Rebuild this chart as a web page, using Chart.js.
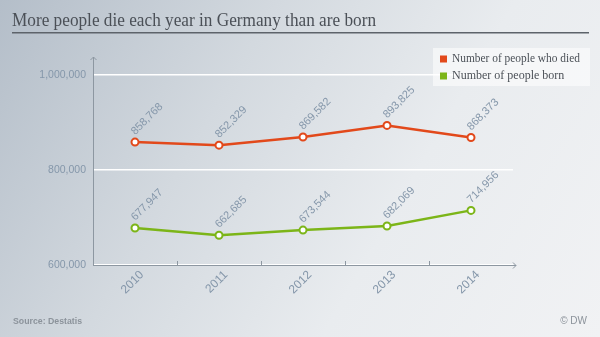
<!DOCTYPE html>
<html>
<head>
<meta charset="utf-8">
<script src="https://cdn.jsdelivr.net/npm/chart.js@4.4.1/dist/chart.umd.min.js"></script>
<style>
  html, body { margin: 0; padding: 0; }
  body {
    width: 600px; height: 337px; overflow: hidden;
    background: linear-gradient(120deg, #b4bec9 0%, #d3d9df 35%, #e9ecef 65%, #f1f2f4 100%);
  }
  #wrap { position: relative; width: 600px; height: 337px; }
</style>
</head>
<body>
<div id="wrap"><canvas id="births_deaths" width="600" height="337"></canvas></div>
<script>
'use strict';

// 年ごとの死亡数・出生数
const years = ['2010', '2011', '2012', '2013', '2014'];
const deaths = [858768, 852329, 869582, 893825, 868373];
const births = [677947, 662685, 673544, 682069, 714956];
const seriesNames = ['Number of people who died', 'Number of people born'];
const seriesColors = ['#e2491b', '#7cb518'];
const yTicks = [600000, 800000, 1000000];

const titleText = 'More people die each year in Germany than are born';
const sourceText = 'Source: Destatis';
const creditText = '\u00a9 DW';

const fmt = v => v.toLocaleString('en-US');
const axisColor = '#8d97a1';
const labelColor = '#8597aa';
const sansFont = 'Arial, "Liberation Sans", sans-serif';
const serifFont = '"Liberation Serif", "DejaVu Serif", serif';

// タイトル・凡例・軸・値ラベル
const decor = {
  id: 'decor',
  beforeDatasetsDraw(chart) {
    const ctx = chart.ctx;
    const a = chart.chartArea;
    const x = chart.scales.x;
    ctx.save();
    ctx.strokeStyle = axisColor;
    ctx.lineWidth = 1;
    // y軸（矢印つき）
    ctx.beginPath();
    ctx.moveTo(a.left + 0.5, a.bottom);
    ctx.lineTo(a.left + 0.5, a.top - 18);
    ctx.moveTo(a.left - 2.5, a.top - 15);
    ctx.lineTo(a.left + 0.5, a.top - 18);
    ctx.lineTo(a.left + 3.5, a.top - 15);
    // x軸（矢印つき）
    ctx.moveTo(a.left, a.bottom + 0.5);
    ctx.lineTo(a.right + 3, a.bottom + 0.5);
    ctx.moveTo(a.right, a.bottom - 2.5);
    ctx.lineTo(a.right + 3, a.bottom + 0.5);
    ctx.lineTo(a.right, a.bottom + 3.5);
    // カテゴリ間の目盛り
    for (let i = 0; i < years.length - 1; i++) {
      const px = Math.round((x.getPixelForTick(i) + x.getPixelForTick(i + 1)) / 2) + 0.5;
      ctx.moveTo(px, a.bottom);
      ctx.lineTo(px, a.bottom - 4);
    }
    ctx.stroke();

    // 年ラベル（45度傾け）
    ctx.fillStyle = labelColor;
    ctx.font = '12px ' + sansFont;
    ctx.textAlign = 'right';
    ctx.textBaseline = 'middle';
    years.forEach((yr, i) => {
      ctx.save();
      ctx.translate(x.getPixelForTick(i) + 7, a.bottom + 8);
      ctx.rotate(-Math.PI / 4);
      ctx.fillText(yr, 0, 0);
      ctx.restore();
    });
    ctx.restore();
  },
  afterDatasetsDraw(chart) {
    const ctx = chart.ctx;
    ctx.save();
    ctx.font = '11px ' + sansFont;
    ctx.fillStyle = labelColor;
    ctx.textAlign = 'left';
    ctx.textBaseline = 'middle';
    chart.data.datasets.forEach((ds, di) => {
      chart.getDatasetMeta(di).data.forEach((pt, i) => {
        ctx.save();
        ctx.translate(pt.x - 2, pt.y - 9);
        ctx.rotate(-Math.PI / 4);
        ctx.fillText(fmt(ds.data[i]), 0, 0);
        ctx.restore();
      });
    });
    ctx.restore();
  },
  afterDraw(chart) {
    const ctx = chart.ctx;
    ctx.save();
    // タイトル
    ctx.fillStyle = '#4b5057';
    ctx.font = '19px ' + serifFont;
    ctx.textAlign = 'left';
    ctx.textBaseline = 'alphabetic';
    ctx.fillText(titleText, 12, 26, 364);
    ctx.fillStyle = '#5d636a';
    ctx.fillRect(12, 32, 577, 1.5);

    // 凡例
    ctx.fillStyle = 'rgba(255,255,255,0.55)';
    ctx.fillRect(433, 48, 157, 38);
    ctx.font = '12px ' + serifFont;
    ctx.textBaseline = 'middle';
    seriesNames.forEach((name, i) => {
      const y = 59 + i * 17;
      ctx.fillStyle = seriesColors[i];
      ctx.fillRect(440, y - 3.5, 7, 7);
      ctx.fillStyle = '#4b5057';
      ctx.fillText(name, 452, y, 128);
    });

    // 出典
    ctx.fillStyle = '#8c939b';
    ctx.font = 'bold 9.5px ' + sansFont;
    ctx.fillText(sourceText, 13, 321, 69);
    ctx.font = '10px ' + sansFont;
    ctx.textAlign = 'right';
    ctx.fillText(creditText, 587, 321);
    ctx.restore();
  }
};

const ctxBirths = document.getElementById('births_deaths').getContext('2d');

new Chart(ctxBirths, {
  type: 'line',
  data: {
    labels: years,
    datasets: [deaths, births].map((values, i) => ({
      label: seriesNames[i],
      data: values,
      borderColor: seriesColors[i],
      backgroundColor: '#ffffff',
      borderWidth: 2.5,
      pointRadius: 3.5,
      pointBorderWidth: 2,
      pointBackgroundColor: '#ffffff',
      pointBorderColor: seriesColors[i],
      tension: 0
    }))
  },
  options: {
    responsive: false,
    animation: false,
    devicePixelRatio: 1,
    layout: { padding: { top: 75, right: 87, bottom: 0, left: 0 } },
    plugins: {
      legend: { display: false },
      tooltip: { enabled: false },
      title: { display: false }
    },
    scales: {
      x: {
        offset: true,
        grid: { display: false },
        border: { display: false },
        ticks: { display: false },
        afterFit(scale) { scale.height = 72; }
      },
      y: {
        min: 600000,
        max: 1000000,
        grid: { color: '#ffffff', lineWidth: 1.5, drawTicks: false },
        border: { display: false },
        afterBuildTicks(scale) { scale.ticks = yTicks.map(v => ({ value: v })); },
        ticks: {
          color: labelColor,
          padding: 7,
          font: { family: sansFont, size: 10.5 },
          callback: v => fmt(v)
        },
        afterFit(scale) { scale.width = 93; }
      }
    }
  },
  plugins: [decor]
});
</script>
</body>
</html>
